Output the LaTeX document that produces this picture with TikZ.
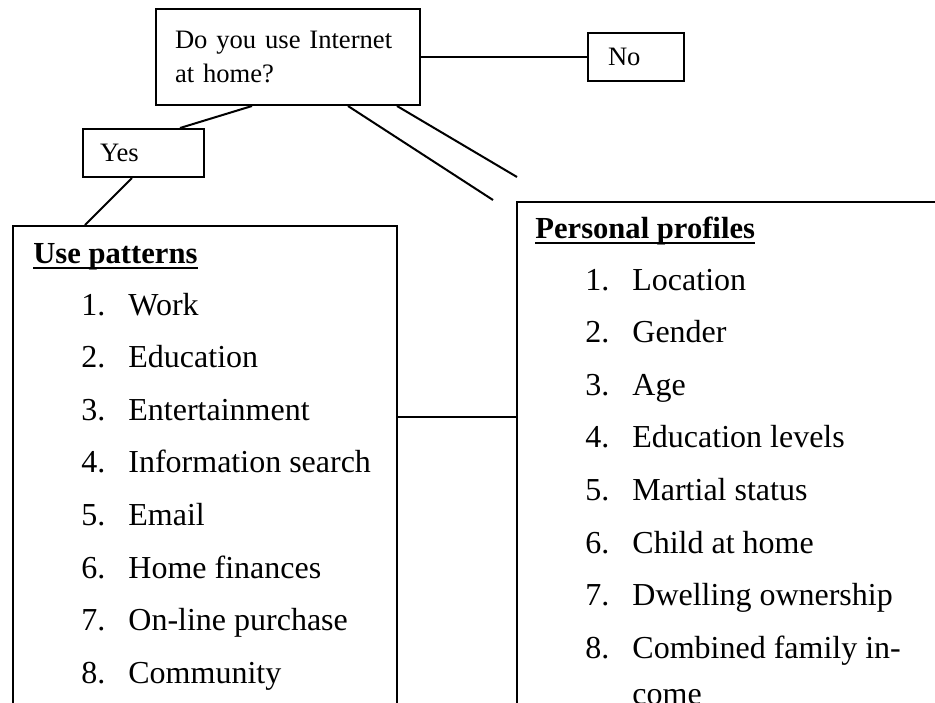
\documentclass[tikz,border=0pt]{standalone}
\usepackage{fontspec}
\setmainfont{Liberation Serif}
\usetikzlibrary{calc}
\begin{document}
\begin{tikzpicture}[x=0.5pt,y=-0.5pt,
	box/.style={draw, line width=1pt, inner ysep=0pt, align=left, font=\fontsize{13.3}{17}\selectfont},
	panel/.style={draw, line width=1.1pt, anchor=north west, inner sep=0pt},
	head/.style={anchor=base west, inner sep=0pt, font=\fontsize{15.3}{18}\selectfont\bfseries},
	item/.style={anchor=base west, inner sep=0pt, font=\fontsize{16}{19}\selectfont},
	link/.style={line width=1pt}]
	\useasboundingbox (0,0) rectangle (935,702);
	\clip (0,0) rectangle (935,702);
	% question and answers
	\node[box, minimum height=48pt, inner xsep=9.5pt, text width=113pt] (q) at (288,57) {Do you use Internet\\ at home?};
	\node[box, minimum height=24pt, inner xsep=10pt, text width=28pt] (no) at (636,57) {No};
	\node[box, minimum height=24pt, inner xsep=8.5pt, text width=43.5pt] (yes) at (143.5,153) {Yes};
	% the two panels, open at the bottom
	\node[panel, minimum width=192pt, minimum height=247.5pt] (use) at (12,225) {};
	\node[panel, minimum width=217pt, minimum height=259.5pt] (prof) at (516,201) {};
	\node[head] (useh) at (33,263) {Use patterns};
	\node[head] (profh) at (535,238) {Personal profiles};
	\draw[line width=0.8pt] ([yshift=-2.5pt]useh.base west) -- ([yshift=-2.5pt]useh.base east);
	\draw[line width=0.8pt] ([yshift=-2.5pt]profh.base west) -- ([yshift=-2.5pt]profh.base east);
	\foreach \txt [count=\i] in {Work, Education, Entertainment, Information search, Email, Home finances, On-line purchase, Community}{
		\node[item] (un\i) at (81,{315+52.6*(\i-1)}) {\i.};
		\node[item] (u\i) at (128,{315+52.6*(\i-1)}) {\txt};
	}
	\foreach \txt [count=\i] in {Location, Gender, Age, Education levels, Martial status, Child at home, Dwelling ownership, Combined family in-}{
		\node[item] (pn\i) at (585,{290+52.6*(\i-1)}) {\i.};
		\node[item] (p\i) at (632,{290+52.6*(\i-1)}) {\txt};
	}
	\node[item] (p9) at (632,704) {come};
	% connectors
	\coordinate (ua) at (493,200);
	\coordinate (ub) at (517,177);
	\coordinate (mid) at (0,417);
	\draw[link] (q.east) -- (no.west);
	\draw[link] ($(q.south)+(-36,0)$) -- ($(yes.north)+(36.5,0)$);
	\draw[link] ($(yes.south)+(-11.5,0)$) -- ($(use.north west)+(73,0)$);
	\draw[link] ($(q.south)+(60,0)$) -- (ua);
	\draw[link] ($(q.south)+(109,0)$) -- (ub);
	\draw[link] (use.east |- mid) -- (prof.west |- mid);
\end{tikzpicture}
\end{document}
